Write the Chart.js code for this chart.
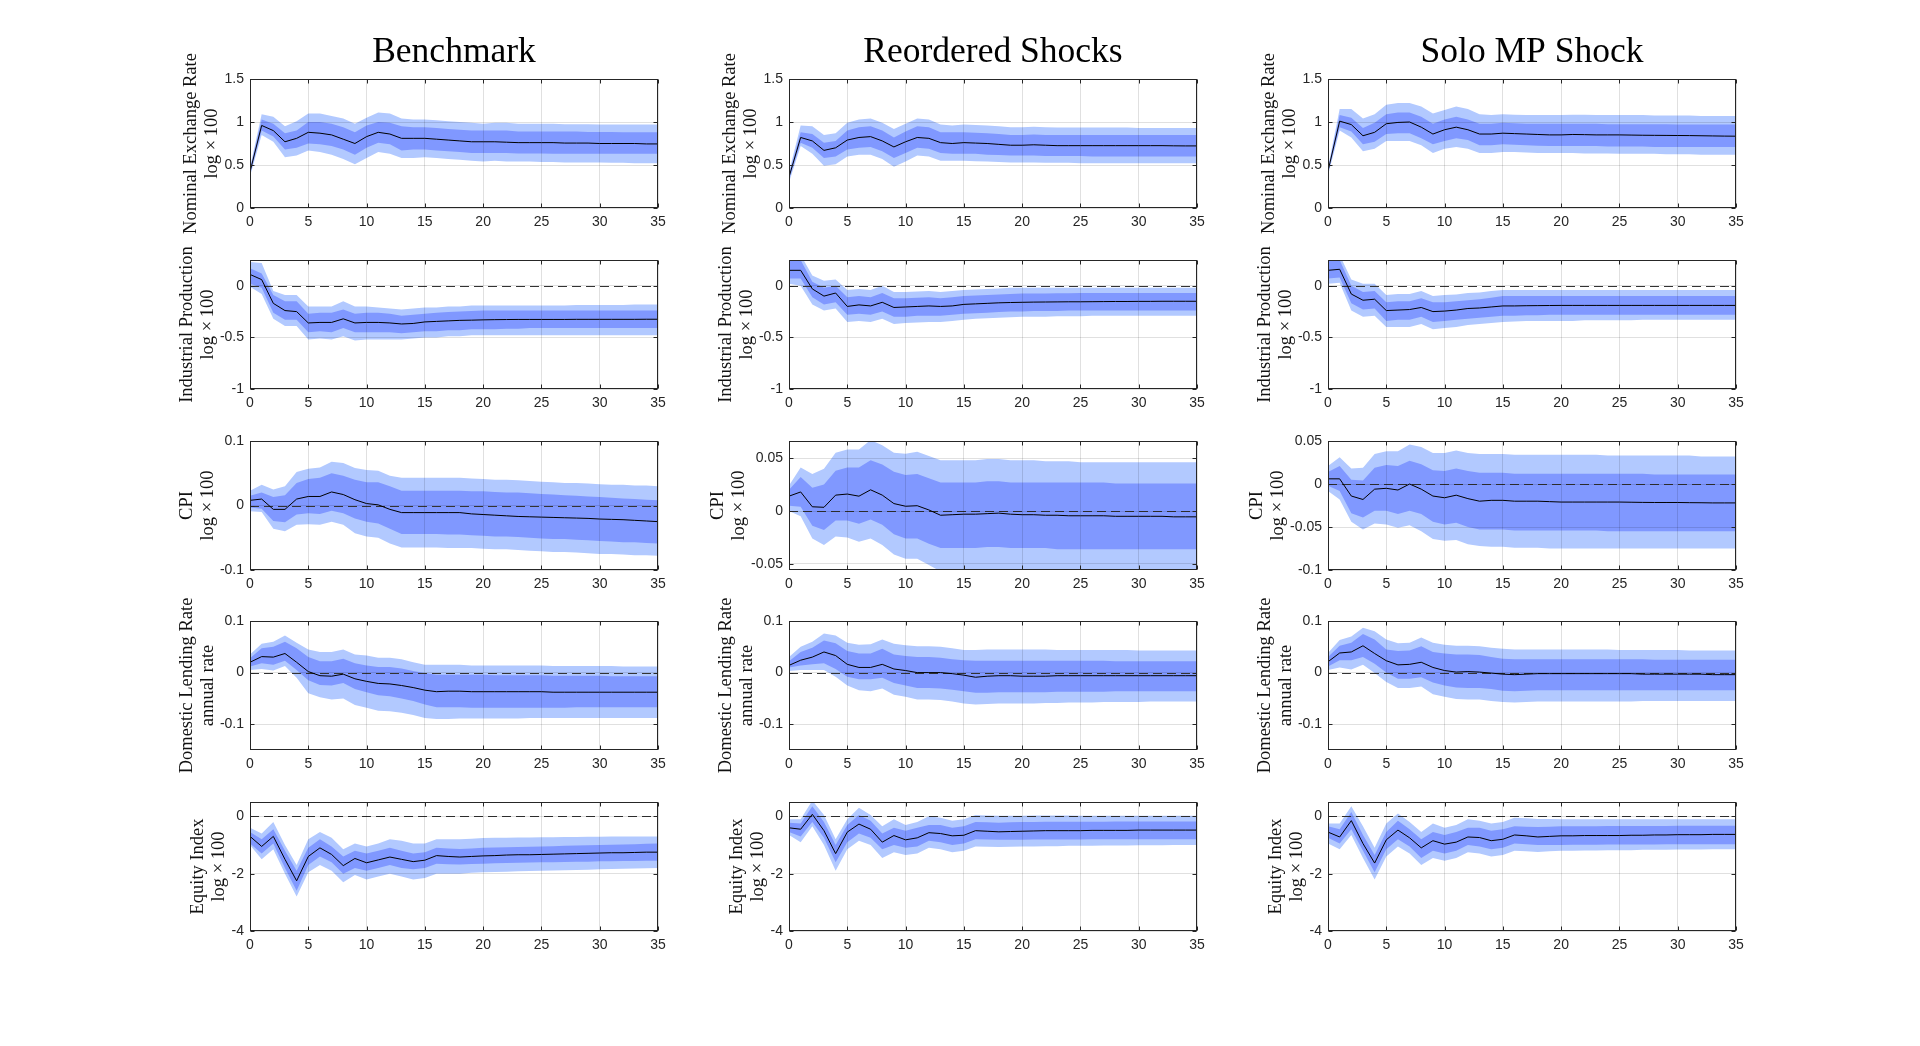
<!DOCTYPE html>
<html>
<head>
<meta charset="utf-8">
<title>Impulse responses</title>
<script src="https://cdn.jsdelivr.net/npm/chart.js@4.4.1/dist/chart.umd.min.js"></script>
<style>
  body { margin: 0; background: #fff; width: 1920px; height: 1046px; position: relative; overflow: hidden; }
  canvas { position: absolute; }
</style>
</head>
<body>
<script>
// horizon (months after the shock)
const horizon = [0,1,2,3,4,5,6,7,8,9,10,11,12,13,14,15,16,17,18,19,20,21,22,23,24,25,26,27,28,29,30,31,32,33,34,35];
const xTicks = [0, 5, 10, 15, 20, 25, 30, 35];

const colTitles = ['Benchmark', 'Reordered Shocks', 'Solo MP Shock'];
const rowLabels = [
  ['Nominal Exchange Rate', 'log \u00d7\u2009100'],
  ['Industrial Production', 'log \u00d7\u2009100'],
  ['CPI', 'log \u00d7\u2009100'],
  ['Domestic Lending Rate', 'annual rate'],
  ['Equity Index', 'log \u00d7\u2009100']
];

// y ranges and ticks
const erRange = [0, 1.5], erTicks = [0, 0.5, 1, 1.5];
const ipRange = [-1, 0.25], ipTicks = [-1, -0.5, 0];
const cpiRanges = [[-0.1, 0.1], [-0.0557, 0.0661], [-0.1, 0.05]];
const cpiTicks = [[-0.1, 0, 0.1], [-0.05, 0, 0.05], [-0.1, -0.05, 0, 0.05]];
const lrRange = [-0.15, 0.1], lrTicks = [-0.1, 0, 0.1];
const eqRange = [-4, 0.5], eqTicks = [-4, -2, 0];

// ---- Benchmark ----
const bm_er_med = [0.42,0.96,0.90,0.77,0.81,0.88,0.87,0.85,0.80,0.75, 0.83,0.88,0.86,0.81,0.81,0.81,0.80,0.79,0.78,0.77, 0.77,0.77,0.765,0.76,0.76,0.76,0.76,0.755,0.755,0.755, 0.75,0.75,0.75,0.75,0.745,0.745];
const bm_er_lo1 = [0.39,0.90,0.83,0.68,0.70,0.75,0.74,0.72,0.68,0.62, 0.70,0.76,0.74,0.67,0.68,0.68,0.67,0.66,0.65,0.64, 0.64,0.64,0.64,0.635,0.635,0.635,0.63,0.63,0.63,0.63, 0.63,0.63,0.63,0.63,0.63,0.63];
const bm_er_hi1 = [0.45,1.03,0.98,0.87,0.90,1.00,1.00,0.98,0.94,0.88, 0.96,1.00,0.99,0.95,0.94,0.94,0.93,0.92,0.91,0.90, 0.90,0.90,0.90,0.89,0.89,0.89,0.89,0.89,0.89,0.885, 0.885,0.885,0.88,0.88,0.88,0.88];
const bm_er_lo2 = [0.37,0.85,0.77,0.59,0.61,0.67,0.65,0.62,0.57,0.51, 0.58,0.65,0.63,0.58,0.58,0.59,0.58,0.57,0.56,0.55, 0.54,0.55,0.54,0.54,0.54,0.535,0.535,0.53,0.53,0.53, 0.53,0.525,0.525,0.52,0.52,0.52];
const bm_er_hi2 = [0.47,1.09,1.06,0.95,1.01,1.10,1.10,1.07,1.04,0.98, 1.05,1.11,1.10,1.04,1.03,1.03,1.02,1.01,1.00,0.99, 0.98,0.99,0.99,0.98,0.98,0.98,0.98,0.975,0.975,0.975, 0.97,0.97,0.97,0.97,0.97,0.97];

const bm_ip_med = [0.11,0.06,-0.17,-0.24,-0.25,-0.36,-0.355,-0.355,-0.32,-0.36, -0.355,-0.355,-0.36,-0.37,-0.365,-0.35,-0.345,-0.34,-0.335,-0.333, -0.33,-0.328,-0.327,-0.326,-0.326,-0.326,-0.326,-0.326,-0.325,-0.325, -0.325,-0.325,-0.325,-0.325,-0.324,-0.324];
const bm_ip_lo1 = [0.02,-0.02,-0.26,-0.33,-0.33,-0.45,-0.44,-0.45,-0.41,-0.45, -0.45,-0.45,-0.45,-0.46,-0.45,-0.44,-0.44,-0.43,-0.43,-0.42, -0.42,-0.42,-0.415,-0.415,-0.41,-0.41,-0.41,-0.41,-0.41,-0.41, -0.41,-0.41,-0.41,-0.41,-0.41,-0.41];
const bm_ip_hi1 = [0.17,0.12,-0.09,-0.15,-0.15,-0.27,-0.26,-0.26,-0.23,-0.27, -0.26,-0.26,-0.27,-0.29,-0.28,-0.27,-0.26,-0.255,-0.25,-0.245, -0.24,-0.24,-0.24,-0.24,-0.24,-0.24,-0.24,-0.24,-0.24,-0.24, -0.24,-0.24,-0.24,-0.24,-0.24,-0.24];
const bm_ip_lo2 = [-0.01,-0.08,-0.32,-0.39,-0.39,-0.52,-0.51,-0.52,-0.49,-0.53, -0.52,-0.52,-0.52,-0.52,-0.51,-0.50,-0.50,-0.49,-0.49,-0.48, -0.48,-0.48,-0.48,-0.48,-0.48,-0.48,-0.48,-0.48,-0.48,-0.48, -0.48,-0.48,-0.48,-0.48,-0.48,-0.48];
const bm_ip_hi2 = [0.23,0.22,-0.05,-0.09,-0.09,-0.20,-0.20,-0.20,-0.15,-0.20, -0.20,-0.21,-0.22,-0.23,-0.22,-0.21,-0.21,-0.20,-0.20,-0.19, -0.19,-0.19,-0.19,-0.19,-0.19,-0.19,-0.19,-0.19,-0.185,-0.185, -0.185,-0.185,-0.185,-0.18,-0.18,-0.18];

const bm_cpi_med = [0.008,0.010,-0.006,-0.006,0.010,0.014,0.014,0.021,0.017,0.009, 0.003,0.001,-0.006,-0.011,-0.011,-0.011,-0.011,-0.011,-0.011,-0.013, -0.014,-0.015,-0.016,-0.017,-0.0175,-0.018,-0.0185,-0.019,-0.0195,-0.020, -0.021,-0.0215,-0.022,-0.023,-0.024,-0.025];
const bm_cpi_lo1 = [-0.003,-0.005,-0.024,-0.026,-0.014,-0.012,-0.013,-0.008,-0.012,-0.020, -0.025,-0.028,-0.036,-0.044,-0.044,-0.044,-0.044,-0.045,-0.045,-0.046, -0.047,-0.048,-0.048,-0.049,-0.050,-0.051,-0.052,-0.052,-0.053,-0.054, -0.055,-0.056,-0.057,-0.057,-0.058,-0.059];
const bm_cpi_hi1 = [0.015,0.020,0.013,0.016,0.035,0.041,0.043,0.050,0.046,0.040, 0.036,0.036,0.030,0.023,0.023,0.023,0.023,0.023,0.023,0.022, 0.022,0.021,0.020,0.020,0.019,0.018,0.017,0.016,0.015,0.014, 0.013,0.012,0.011,0.010,0.009,0.008];
const bm_cpi_lo2 = [-0.009,-0.010,-0.036,-0.040,-0.030,-0.029,-0.030,-0.025,-0.030,-0.043, -0.048,-0.050,-0.059,-0.065,-0.065,-0.065,-0.065,-0.066,-0.066,-0.066, -0.067,-0.068,-0.068,-0.069,-0.070,-0.071,-0.072,-0.072,-0.073,-0.074, -0.075,-0.075,-0.076,-0.077,-0.077,-0.078];
const bm_cpi_hi2 = [0.023,0.032,0.025,0.030,0.052,0.057,0.059,0.068,0.066,0.058, 0.055,0.054,0.046,0.043,0.043,0.043,0.043,0.043,0.043,0.042, 0.041,0.040,0.040,0.039,0.038,0.037,0.036,0.035,0.035,0.034, 0.033,0.032,0.032,0.031,0.031,0.030];

const bm_lr_med = [0.020,0.031,0.030,0.037,0.020,0.002,-0.006,-0.007,-0.003,-0.012, -0.017,-0.021,-0.022,-0.025,-0.029,-0.034,-0.037,-0.036,-0.036,-0.037, -0.037,-0.037,-0.037,-0.037,-0.037,-0.037,-0.038,-0.038,-0.038,-0.038, -0.038,-0.038,-0.038,-0.038,-0.038,-0.038];
const bm_lr_lo1 = [0.012,0.018,0.015,0.023,0.005,-0.015,-0.024,-0.025,-0.020,-0.032, -0.038,-0.044,-0.046,-0.050,-0.055,-0.062,-0.067,-0.067,-0.067,-0.068, -0.068,-0.068,-0.068,-0.068,-0.068,-0.068,-0.068,-0.068,-0.067,-0.067, -0.067,-0.067,-0.067,-0.067,-0.067,-0.067];
const bm_lr_hi1 = [0.028,0.047,0.050,0.060,0.047,0.030,0.022,0.022,0.027,0.018, 0.014,0.011,0.011,0.008,0.003,-0.001,-0.004,-0.004,-0.004,-0.004, -0.004,-0.005,-0.005,-0.005,-0.005,-0.005,-0.006,-0.006,-0.006,-0.006, -0.006,-0.007,-0.007,-0.007,-0.007,-0.007];
const bm_lr_lo2 = [0.005,0.007,0.004,0.013,-0.010,-0.040,-0.048,-0.052,-0.050,-0.063, -0.068,-0.074,-0.075,-0.078,-0.082,-0.088,-0.090,-0.090,-0.089,-0.089, -0.089,-0.089,-0.089,-0.089,-0.088,-0.088,-0.088,-0.088,-0.088,-0.088, -0.088,-0.088,-0.088,-0.088,-0.088,-0.088];
const bm_lr_hi2 = [0.035,0.056,0.060,0.072,0.058,0.045,0.040,0.040,0.045,0.035, 0.033,0.029,0.029,0.026,0.020,0.015,0.015,0.015,0.015,0.014, 0.014,0.014,0.014,0.014,0.014,0.014,0.013,0.013,0.013,0.013, 0.013,0.013,0.012,0.012,0.012,0.012];

const bm_eq_med = [-0.70,-1.05,-0.70,-1.50,-2.25,-1.40,-1.10,-1.33,-1.72,-1.47, -1.62,-1.52,-1.42,-1.50,-1.58,-1.53,-1.37,-1.40,-1.42,-1.40, -1.38,-1.37,-1.35,-1.34,-1.34,-1.33,-1.32,-1.31,-1.30,-1.29, -1.28,-1.27,-1.27,-1.26,-1.25,-1.25];
const bm_eq_lo1 = [-0.95,-1.30,-0.95,-1.80,-2.60,-1.70,-1.40,-1.60,-2.00,-1.80, -1.90,-1.80,-1.70,-1.80,-1.85,-1.80,-1.65,-1.67,-1.68,-1.66, -1.65,-1.64,-1.63,-1.62,-1.61,-1.60,-1.60,-1.59,-1.58,-1.58, -1.57,-1.57,-1.56,-1.56,-1.55,-1.55];
const bm_eq_hi1 = [-0.55,-0.80,-0.45,-1.20,-1.90,-1.10,-0.80,-1.05,-1.40,-1.20, -1.30,-1.20,-1.10,-1.20,-1.30,-1.25,-1.10,-1.12,-1.14,-1.12, -1.10,-1.09,-1.08,-1.07,-1.06,-1.05,-1.04,-1.03,-1.02,-1.01, -1.00,-0.99,-0.98,-0.97,-0.96,-0.95];
const bm_eq_lo2 = [-1.00,-1.50,-1.15,-2.00,-2.80,-1.95,-1.70,-1.90,-2.30,-2.05, -2.20,-2.10,-2.00,-2.10,-2.20,-2.15,-2.00,-2.00,-2.00,-1.97, -1.95,-1.94,-1.93,-1.92,-1.91,-1.90,-1.89,-1.88,-1.87,-1.86, -1.85,-1.84,-1.83,-1.82,-1.81,-1.80];
const bm_eq_hi2 = [-0.40,-0.60,-0.20,-1.00,-1.70,-0.80,-0.55,-0.75,-1.15,-0.95, -1.05,-0.95,-0.80,-0.85,-0.95,-0.95,-0.80,-0.80,-0.80,-0.78, -0.76,-0.75,-0.75,-0.74,-0.74,-0.73,-0.73,-0.72,-0.72,-0.71, -0.71,-0.70,-0.70,-0.70,-0.70,-0.70];

// ---- Reordered Shocks ----
const ro_er_med = [0.36,0.82,0.78,0.67,0.70,0.79,0.82,0.83,0.78,0.71, 0.77,0.82,0.81,0.76,0.75,0.76,0.755,0.75,0.74,0.73, 0.73,0.735,0.73,0.725,0.725,0.725,0.725,0.725,0.725,0.725, 0.725,0.725,0.725,0.723,0.722,0.722];
const ro_er_lo1 = [0.33,0.76,0.70,0.58,0.60,0.68,0.70,0.71,0.66,0.58, 0.64,0.70,0.69,0.64,0.63,0.63,0.63,0.62,0.615,0.61, 0.61,0.61,0.605,0.605,0.605,0.605,0.60,0.60,0.60,0.60, 0.60,0.60,0.60,0.60,0.60,0.60];
const ro_er_hi1 = [0.39,0.88,0.86,0.76,0.78,0.90,0.94,0.95,0.90,0.82, 0.89,0.95,0.94,0.88,0.88,0.88,0.875,0.87,0.86,0.85, 0.85,0.855,0.85,0.85,0.85,0.85,0.85,0.85,0.85,0.85, 0.85,0.85,0.85,0.85,0.85,0.85];
const ro_er_lo2 = [0.30,0.72,0.63,0.49,0.51,0.60,0.62,0.62,0.57,0.48, 0.54,0.61,0.60,0.55,0.55,0.55,0.545,0.54,0.535,0.53, 0.53,0.53,0.525,0.525,0.525,0.52,0.52,0.52,0.52,0.52, 0.52,0.52,0.52,0.52,0.52,0.52];
const ro_er_hi2 = [0.42,0.96,0.95,0.85,0.87,0.99,1.03,1.04,0.99,0.92, 0.98,1.04,1.03,0.97,0.96,0.97,0.965,0.96,0.95,0.94, 0.94,0.945,0.94,0.935,0.935,0.935,0.935,0.935,0.935,0.935, 0.93,0.93,0.93,0.93,0.93,0.93];

const ro_ip_med = [0.15,0.15,-0.03,-0.10,-0.07,-0.20,-0.185,-0.195,-0.16,-0.21, -0.205,-0.20,-0.195,-0.20,-0.195,-0.18,-0.175,-0.17,-0.165,-0.162, -0.16,-0.158,-0.157,-0.156,-0.155,-0.155,-0.154,-0.153,-0.152,-0.152, -0.151,-0.151,-0.15,-0.15,-0.15,-0.15];
const ro_ip_lo1 = [0.07,0.07,-0.11,-0.18,-0.16,-0.28,-0.27,-0.28,-0.25,-0.30, -0.30,-0.29,-0.29,-0.29,-0.28,-0.27,-0.265,-0.26,-0.255,-0.25, -0.25,-0.245,-0.245,-0.245,-0.24,-0.24,-0.24,-0.24,-0.24,-0.24, -0.24,-0.24,-0.24,-0.24,-0.24,-0.24];
const ro_ip_hi1 = [0.25,0.25,0.04,-0.02,0.00,-0.11,-0.10,-0.11,-0.07,-0.12, -0.12,-0.115,-0.11,-0.12,-0.11,-0.10,-0.095,-0.09,-0.085,-0.08, -0.075,-0.075,-0.075,-0.072,-0.072,-0.07,-0.07,-0.07,-0.07,-0.07, -0.07,-0.07,-0.07,-0.07,-0.07,-0.07];
const ro_ip_lo2 = [0.02,0.00,-0.18,-0.24,-0.22,-0.35,-0.34,-0.35,-0.32,-0.37, -0.36,-0.355,-0.35,-0.35,-0.34,-0.33,-0.32,-0.315,-0.31,-0.305, -0.30,-0.30,-0.30,-0.295,-0.295,-0.295,-0.29,-0.29,-0.29,-0.29, -0.29,-0.29,-0.29,-0.29,-0.29,-0.29];
const ro_ip_hi2 = [0.30,0.30,0.10,0.05,0.06,-0.04,-0.03,-0.04,0.00,-0.06, -0.06,-0.055,-0.05,-0.06,-0.05,-0.04,-0.035,-0.03,-0.025,-0.02, -0.02,-0.02,-0.02,-0.02,-0.02,-0.02,-0.02,-0.02,-0.02,-0.02, -0.02,-0.02,-0.02,-0.02,-0.02,-0.02];

const ro_cpi_med = [0.014,0.018,0.004,0.0035,0.015,0.016,0.014,0.020,0.015,0.007, 0.0045,0.005,0.001,-0.004,-0.0035,-0.003,-0.003,-0.0025,-0.002,-0.003, -0.0035,-0.0035,-0.004,-0.004,-0.0045,-0.0045,-0.0045,-0.0045,-0.005,-0.005, -0.005,-0.005,-0.005,-0.0055,-0.0055,-0.0055];
const ro_cpi_lo1 = [0.005,0.004,-0.014,-0.018,-0.009,-0.009,-0.012,-0.008,-0.013,-0.022, -0.026,-0.026,-0.031,-0.035,-0.035,-0.035,-0.035,-0.034,-0.034,-0.035, -0.035,-0.035,-0.035,-0.036,-0.036,-0.036,-0.036,-0.036,-0.036,-0.036, -0.036,-0.036,-0.036,-0.036,-0.036,-0.036];
const ro_cpi_hi1 = [0.020,0.032,0.022,0.025,0.038,0.041,0.041,0.048,0.044,0.037, 0.034,0.035,0.031,0.027,0.027,0.027,0.027,0.028,0.028,0.027, 0.027,0.027,0.027,0.027,0.027,0.027,0.027,0.027,0.026,0.026, 0.026,0.026,0.026,0.026,0.026,0.026];
const ro_cpi_lo2 = [0.000,-0.005,-0.026,-0.032,-0.024,-0.025,-0.029,-0.026,-0.032,-0.041, -0.045,-0.045,-0.051,-0.057,-0.058,-0.058,-0.058,-0.057,-0.057,-0.058, -0.058,-0.058,-0.059,-0.059,-0.059,-0.059,-0.059,-0.059,-0.060,-0.060, -0.060,-0.060,-0.060,-0.060,-0.060,-0.060];
const ro_cpi_hi2 = [0.024,0.041,0.035,0.040,0.055,0.058,0.058,0.067,0.062,0.055, 0.054,0.056,0.052,0.048,0.048,0.048,0.048,0.049,0.049,0.048, 0.048,0.048,0.047,0.047,0.047,0.046,0.046,0.046,0.046,0.046, 0.046,0.046,0.046,0.046,0.046,0.046];

const ro_lr_med = [0.014,0.024,0.030,0.040,0.033,0.016,0.010,0.010,0.016,0.007, 0.004,0.000,0.000,0.000,-0.002,-0.005,-0.009,-0.007,-0.006,-0.006, -0.007,-0.007,-0.007,-0.006,-0.006,-0.006,-0.006,-0.006,-0.006,-0.006, -0.006,-0.006,-0.006,-0.006,-0.006,-0.006];
const ro_lr_lo1 = [0.010,0.014,0.016,0.018,0.007,-0.008,-0.013,-0.013,-0.010,-0.020, -0.025,-0.030,-0.030,-0.031,-0.033,-0.036,-0.039,-0.039,-0.038,-0.038, -0.038,-0.038,-0.038,-0.037,-0.037,-0.037,-0.037,-0.037,-0.036,-0.036, -0.036,-0.036,-0.036,-0.036,-0.036,-0.036];
const ro_lr_hi1 = [0.022,0.040,0.048,0.062,0.057,0.042,0.037,0.037,0.046,0.035, 0.032,0.030,0.030,0.029,0.026,0.024,0.023,0.023,0.023,0.023, 0.023,0.023,0.023,0.023,0.023,0.023,0.023,0.023,0.022,0.022, 0.022,0.022,0.022,0.022,0.022,0.022];
const ro_lr_lo2 = [0.003,0.005,0.005,0.005,-0.008,-0.025,-0.034,-0.036,-0.031,-0.043, -0.047,-0.052,-0.052,-0.053,-0.056,-0.060,-0.062,-0.061,-0.060,-0.060, -0.060,-0.060,-0.059,-0.059,-0.058,-0.058,-0.058,-0.057,-0.057,-0.057, -0.057,-0.056,-0.056,-0.056,-0.056,-0.056];
const ro_lr_hi2 = [0.030,0.050,0.060,0.076,0.072,0.058,0.054,0.055,0.064,0.056, 0.053,0.051,0.051,0.050,0.047,0.044,0.044,0.045,0.045,0.045, 0.045,0.045,0.045,0.044,0.044,0.044,0.044,0.044,0.044,0.044, 0.043,0.043,0.043,0.043,0.043,0.043];

const ro_eq_med = [-0.40,-0.45,0.07,-0.50,-1.30,-0.55,-0.27,-0.45,-0.90,-0.67, -0.82,-0.75,-0.57,-0.60,-0.68,-0.66,-0.50,-0.52,-0.54,-0.53, -0.52,-0.51,-0.50,-0.50,-0.50,-0.50,-0.49,-0.49,-0.49,-0.49, -0.48,-0.48,-0.48,-0.48,-0.48,-0.48];
const ro_eq_lo1 = [-0.55,-0.70,-0.20,-0.75,-1.60,-0.90,-0.60,-0.75,-1.15,-1.00, -1.10,-1.05,-0.85,-0.90,-1.00,-0.95,-0.80,-0.81,-0.82,-0.82, -0.82,-0.81,-0.81,-0.81,-0.81,-0.81,-0.80,-0.80,-0.80,-0.80, -0.80,-0.80,-0.80,-0.80,-0.80,-0.80];
const ro_eq_hi1 = [-0.22,-0.25,0.35,-0.20,-1.00,-0.30,0.05,-0.15,-0.60,-0.40, -0.50,-0.40,-0.30,-0.30,-0.40,-0.35,-0.20,-0.21,-0.22,-0.21, -0.20,-0.20,-0.19,-0.19,-0.19,-0.19,-0.19,-0.19,-0.18,-0.18, -0.18,-0.18,-0.18,-0.18,-0.18,-0.18];
const ro_eq_lo2 = [-0.65,-0.90,-0.35,-1.00,-1.90,-1.15,-0.85,-1.00,-1.45,-1.25, -1.35,-1.30,-1.10,-1.15,-1.25,-1.20,-1.05,-1.06,-1.07,-1.06, -1.05,-1.05,-1.04,-1.04,-1.03,-1.03,-1.03,-1.02,-1.02,-1.02, -1.01,-1.01,-1.01,-1.00,-1.00,-1.00];
const ro_eq_hi2 = [-0.10,-0.10,0.55,0.05,-0.80,-0.10,0.30,0.05,-0.35,-0.10, -0.30,-0.20,0.00,-0.05,-0.15,-0.10,0.05,0.03,0.02,0.02, 0.02,0.03,0.03,0.03,0.03,0.02,0.02,0.02,0.02,0.02, 0.02,0.02,0.02,0.02,0.02,0.02];

// ---- Solo MP Shock ----
const mp_er_med = [0.43,1.01,0.97,0.84,0.88,0.98,0.995,1.00,0.94,0.86, 0.91,0.94,0.91,0.86,0.86,0.87,0.865,0.86,0.855,0.85, 0.85,0.855,0.853,0.85,0.85,0.85,0.848,0.846,0.845,0.844, 0.843,0.842,0.84,0.838,0.836,0.835];
const mp_er_lo1 = [0.41,0.94,0.89,0.74,0.77,0.86,0.87,0.87,0.81,0.74, 0.78,0.81,0.79,0.73,0.73,0.74,0.735,0.73,0.725,0.72, 0.72,0.72,0.72,0.72,0.715,0.715,0.715,0.715,0.71,0.71, 0.71,0.71,0.71,0.71,0.71,0.71];
const mp_er_hi1 = [0.45,1.08,1.05,0.93,0.99,1.09,1.11,1.11,1.06,0.98, 1.03,1.06,1.03,0.98,0.98,0.99,0.985,0.98,0.98,0.98, 0.98,0.98,0.98,0.98,0.975,0.975,0.975,0.975,0.975,0.975, 0.97,0.97,0.97,0.97,0.97,0.97];
const mp_er_lo2 = [0.38,0.90,0.82,0.66,0.69,0.78,0.78,0.78,0.73,0.64, 0.69,0.71,0.69,0.64,0.64,0.65,0.65,0.645,0.64,0.64, 0.64,0.64,0.635,0.635,0.635,0.63,0.63,0.63,0.63,0.625, 0.625,0.625,0.62,0.62,0.62,0.62];
const mp_er_hi2 = [0.47,1.15,1.15,1.04,1.09,1.20,1.22,1.22,1.18,1.10, 1.14,1.18,1.15,1.09,1.08,1.09,1.085,1.08,1.08,1.08, 1.08,1.085,1.085,1.08,1.08,1.08,1.08,1.08,1.075,1.075, 1.075,1.075,1.07,1.07,1.07,1.07];

const mp_ip_med = [0.15,0.16,-0.08,-0.14,-0.13,-0.24,-0.235,-0.23,-0.21,-0.25, -0.245,-0.235,-0.22,-0.215,-0.205,-0.195,-0.195,-0.193,-0.192,-0.191, -0.19,-0.19,-0.19,-0.19,-0.19,-0.19,-0.19,-0.19,-0.19,-0.19, -0.19,-0.19,-0.19,-0.19,-0.19,-0.19];
const mp_ip_lo1 = [0.07,0.08,-0.17,-0.23,-0.22,-0.34,-0.33,-0.33,-0.30,-0.35, -0.34,-0.33,-0.32,-0.31,-0.30,-0.29,-0.29,-0.285,-0.285,-0.28, -0.28,-0.28,-0.28,-0.28,-0.28,-0.28,-0.28,-0.28,-0.28,-0.28, -0.28,-0.28,-0.28,-0.28,-0.28,-0.28];
const mp_ip_hi1 = [0.25,0.25,0.00,-0.06,-0.05,-0.16,-0.15,-0.15,-0.12,-0.16, -0.16,-0.15,-0.14,-0.13,-0.115,-0.10,-0.10,-0.10,-0.10,-0.10, -0.10,-0.10,-0.10,-0.10,-0.10,-0.10,-0.10,-0.10,-0.10,-0.10, -0.10,-0.10,-0.10,-0.10,-0.10,-0.10];
const mp_ip_lo2 = [0.02,0.03,-0.24,-0.30,-0.29,-0.40,-0.40,-0.40,-0.37,-0.42, -0.41,-0.40,-0.38,-0.37,-0.36,-0.35,-0.345,-0.34,-0.34,-0.34, -0.34,-0.34,-0.335,-0.335,-0.335,-0.335,-0.335,-0.33,-0.33,-0.33, -0.33,-0.33,-0.33,-0.33,-0.33,-0.33];
const mp_ip_hi2 = [0.30,0.30,0.06,0.02,0.02,-0.09,-0.08,-0.08,-0.05,-0.10, -0.09,-0.085,-0.07,-0.065,-0.05,-0.04,-0.04,-0.04,-0.04,-0.04, -0.04,-0.04,-0.04,-0.04,-0.04,-0.04,-0.04,-0.04,-0.04,-0.04, -0.04,-0.04,-0.04,-0.04,-0.04,-0.04];

const mp_cpi_med = [0.006,0.006,-0.014,-0.018,-0.006,-0.005,-0.007,0.000,-0.006,-0.014, -0.016,-0.013,-0.017,-0.020,-0.019,-0.019,-0.020,-0.020,-0.020,-0.0205, -0.021,-0.021,-0.021,-0.021,-0.021,-0.021,-0.0212,-0.0214,-0.0215,-0.0215, -0.0215,-0.0217,-0.0218,-0.022,-0.022,-0.022];
const mp_cpi_lo1 = [-0.002,-0.008,-0.034,-0.039,-0.031,-0.031,-0.035,-0.031,-0.035,-0.044, -0.047,-0.045,-0.050,-0.053,-0.053,-0.053,-0.054,-0.054,-0.054,-0.054, -0.054,-0.054,-0.054,-0.054,-0.055,-0.055,-0.055,-0.055,-0.055,-0.055, -0.055,-0.055,-0.055,-0.055,-0.055,-0.055];
const mp_cpi_hi1 = [0.014,0.021,0.005,0.004,0.019,0.022,0.021,0.027,0.023,0.016, 0.015,0.018,0.015,0.013,0.013,0.013,0.012,0.012,0.012,0.012, 0.012,0.012,0.012,0.012,0.012,0.012,0.012,0.012,0.011,0.011, 0.011,0.011,0.011,0.011,0.011,0.011];
const mp_cpi_lo2 = [-0.008,-0.018,-0.044,-0.053,-0.046,-0.047,-0.051,-0.048,-0.055,-0.064, -0.066,-0.065,-0.070,-0.072,-0.073,-0.073,-0.074,-0.074,-0.074,-0.075, -0.075,-0.075,-0.075,-0.075,-0.075,-0.075,-0.075,-0.075,-0.075,-0.075, -0.075,-0.075,-0.075,-0.075,-0.075,-0.075];
const mp_cpi_hi2 = [0.021,0.031,0.018,0.019,0.035,0.038,0.038,0.046,0.043,0.036, 0.036,0.039,0.036,0.035,0.035,0.035,0.034,0.034,0.034,0.034, 0.034,0.034,0.034,0.034,0.033,0.033,0.033,0.033,0.033,0.033, 0.033,0.033,0.032,0.032,0.032,0.032];

const mp_lr_med = [0.021,0.038,0.040,0.052,0.037,0.023,0.015,0.016,0.020,0.010, 0.004,0.001,0.002,0.001,-0.001,-0.003,-0.004,-0.003,-0.002,-0.002, -0.002,-0.002,-0.002,-0.002,-0.002,-0.002,-0.002,-0.003,-0.003,-0.003, -0.003,-0.003,-0.003,-0.004,-0.004,-0.004];
const mp_lr_lo1 = [0.012,0.024,0.024,0.030,0.017,0.000,-0.012,-0.012,-0.009,-0.019, -0.025,-0.029,-0.030,-0.030,-0.032,-0.035,-0.036,-0.035,-0.034,-0.034, -0.034,-0.034,-0.034,-0.034,-0.034,-0.034,-0.034,-0.034,-0.034,-0.034, -0.034,-0.034,-0.034,-0.034,-0.034,-0.034];
const mp_lr_hi1 = [0.030,0.052,0.058,0.075,0.064,0.045,0.042,0.043,0.051,0.040, 0.037,0.035,0.035,0.034,0.030,0.027,0.026,0.026,0.026,0.026, 0.026,0.026,0.026,0.026,0.026,0.026,0.026,0.026,0.025,0.025, 0.025,0.025,0.025,0.025,0.025,0.025];
const mp_lr_lo2 = [0.005,0.010,0.006,0.015,-0.001,-0.018,-0.030,-0.030,-0.027,-0.042, -0.047,-0.051,-0.052,-0.052,-0.055,-0.057,-0.058,-0.057,-0.056,-0.056, -0.056,-0.056,-0.056,-0.056,-0.056,-0.056,-0.056,-0.055,-0.055,-0.055, -0.055,-0.055,-0.055,-0.055,-0.055,-0.055];
const mp_lr_hi2 = [0.038,0.063,0.070,0.087,0.080,0.064,0.057,0.058,0.068,0.058, 0.054,0.052,0.052,0.051,0.048,0.046,0.045,0.045,0.045,0.045, 0.045,0.045,0.045,0.045,0.045,0.044,0.044,0.044,0.044,0.044, 0.044,0.043,0.043,0.043,0.043,0.043];

const mp_eq_med = [-0.55,-0.72,-0.15,-0.95,-1.63,-0.82,-0.48,-0.75,-1.10,-0.85, -0.97,-0.90,-0.72,-0.74,-0.85,-0.80,-0.65,-0.68,-0.72,-0.70, -0.68,-0.68,-0.67,-0.67,-0.67,-0.67,-0.66,-0.66,-0.65,-0.65, -0.64,-0.64,-0.64,-0.63,-0.63,-0.63];
const mp_eq_lo1 = [-0.75,-0.95,-0.45,-1.20,-1.95,-1.15,-0.80,-1.05,-1.45,-1.20, -1.30,-1.20,-1.00,-1.05,-1.15,-1.10,-0.95,-0.97,-1.00,-1.00, -1.00,-0.99,-0.99,-0.99,-0.98,-0.98,-0.98,-0.98,-0.98,-0.97, -0.97,-0.97,-0.97,-0.97,-0.97,-0.97];
const mp_eq_hi1 = [-0.35,-0.45,0.15,-0.65,-1.35,-0.55,-0.15,-0.45,-0.80,-0.55, -0.65,-0.55,-0.40,-0.40,-0.50,-0.45,-0.35,-0.36,-0.37,-0.36, -0.35,-0.35,-0.35,-0.35,-0.34,-0.34,-0.34,-0.34,-0.34,-0.34, -0.33,-0.33,-0.33,-0.33,-0.33,-0.33];
const mp_eq_lo2 = [-0.95,-1.15,-0.65,-1.45,-2.20,-1.40,-1.05,-1.30,-1.70,-1.45, -1.55,-1.45,-1.25,-1.30,-1.40,-1.35,-1.20,-1.22,-1.24,-1.22, -1.20,-1.20,-1.19,-1.19,-1.18,-1.18,-1.18,-1.17,-1.17,-1.17, -1.16,-1.16,-1.16,-1.15,-1.15,-1.15];
const mp_eq_hi2 = [-0.25,-0.25,0.35,-0.35,-1.10,-0.25,0.10,-0.20,-0.55,-0.25, -0.40,-0.30,-0.10,-0.15,-0.25,-0.20,-0.05,-0.07,-0.09,-0.09, -0.10,-0.10,-0.10,-0.10,-0.10,-0.10,-0.10,-0.10,-0.10,-0.10, -0.10,-0.10,-0.10,-0.10,-0.10,-0.10];

// layout of the 5x3 grid (page pixels)
const colLeft = [250, 789, 1328];
const rowTop = [79, 260, 441, 621, 802];
const plotW = 408, plotH = 129;
const padL = 110, padT = 60, padR = 30, padB = 32;

const lightBand = 'rgb(178,201,255)';
const darkBand = 'rgb(128,152,255)';
const axisColor = '#262626';

const panels = [
  // row, col, series..., range, ticks
  [0, 0, bm_er_med, bm_er_lo1, bm_er_hi1, bm_er_lo2, bm_er_hi2, erRange, erTicks],
  [0, 1, ro_er_med, ro_er_lo1, ro_er_hi1, ro_er_lo2, ro_er_hi2, erRange, erTicks],
  [0, 2, mp_er_med, mp_er_lo1, mp_er_hi1, mp_er_lo2, mp_er_hi2, erRange, erTicks],
  [1, 0, bm_ip_med, bm_ip_lo1, bm_ip_hi1, bm_ip_lo2, bm_ip_hi2, ipRange, ipTicks],
  [1, 1, ro_ip_med, ro_ip_lo1, ro_ip_hi1, ro_ip_lo2, ro_ip_hi2, ipRange, ipTicks],
  [1, 2, mp_ip_med, mp_ip_lo1, mp_ip_hi1, mp_ip_lo2, mp_ip_hi2, ipRange, ipTicks],
  [2, 0, bm_cpi_med, bm_cpi_lo1, bm_cpi_hi1, bm_cpi_lo2, bm_cpi_hi2, cpiRanges[0], cpiTicks[0]],
  [2, 1, ro_cpi_med, ro_cpi_lo1, ro_cpi_hi1, ro_cpi_lo2, ro_cpi_hi2, cpiRanges[1], cpiTicks[1]],
  [2, 2, mp_cpi_med, mp_cpi_lo1, mp_cpi_hi1, mp_cpi_lo2, mp_cpi_hi2, cpiRanges[2], cpiTicks[2]],
  [3, 0, bm_lr_med, bm_lr_lo1, bm_lr_hi1, bm_lr_lo2, bm_lr_hi2, lrRange, lrTicks],
  [3, 1, ro_lr_med, ro_lr_lo1, ro_lr_hi1, ro_lr_lo2, ro_lr_hi2, lrRange, lrTicks],
  [3, 2, mp_lr_med, mp_lr_lo1, mp_lr_hi1, mp_lr_lo2, mp_lr_hi2, lrRange, lrTicks],
  [4, 0, bm_eq_med, bm_eq_lo1, bm_eq_hi1, bm_eq_lo2, bm_eq_hi2, eqRange, eqTicks],
  [4, 1, ro_eq_med, ro_eq_lo1, ro_eq_hi1, ro_eq_lo2, ro_eq_hi2, eqRange, eqTicks],
  [4, 2, mp_eq_med, mp_eq_lo1, mp_eq_hi1, mp_eq_lo2, mp_eq_hi2, eqRange, eqTicks]
];

// box, inward ticks, zero line, y labels and column titles
const deco = {
  id: 'deco',
  beforeDatasetDraw(chart, args, opts) {
    if (args.index !== 0 || !opts.zero) return;
    const { ctx, chartArea: a, scales: { y } } = chart;
    const py = Math.round(y.getPixelForValue(0)) + 0.5;
    ctx.save();
    ctx.strokeStyle = '#333';
    ctx.lineWidth = 1;
    ctx.setLineDash([9, 5]);
    ctx.beginPath();
    ctx.moveTo(a.left, py);
    ctx.lineTo(a.right, py);
    ctx.stroke();
    ctx.restore();
  },
  afterDraw(chart, args, opts) {
    const { ctx, chartArea: a, scales: { x, y } } = chart;
    const L = Math.round(a.left) + 0.5, R = Math.round(a.right) - 0.5;
    const T = Math.round(a.top) + 0.5, B = Math.round(a.bottom) - 0.5;
    ctx.save();
    ctx.strokeStyle = axisColor;
    ctx.lineWidth = 1;
    ctx.beginPath();
    x.ticks.forEach(t => {
      const px = Math.round(x.getPixelForValue(t.value)) + 0.5;
      ctx.moveTo(px, B); ctx.lineTo(px, B - 4);
      ctx.moveTo(px, T); ctx.lineTo(px, T + 4);
    });
    y.ticks.forEach(t => {
      const py = Math.round(y.getPixelForValue(t.value)) + 0.5;
      ctx.moveTo(L, py); ctx.lineTo(L + 4, py);
      ctx.moveTo(R, py); ctx.lineTo(R - 4, py);
    });
    ctx.stroke();
    ctx.strokeRect(L, T, R - L, B - T);

    // two-line y label, placed left of the widest tick label
    ctx.font = '14px "Liberation Sans", Arial, sans-serif';
    const w = Math.max(...y.ticks.map(t => ctx.measureText(String(t.value)).width));
    const x2 = a.left - 6 - w - 12;
    const x1 = x2 - 21;
    const cy = (a.top + a.bottom) / 2;
    ctx.fillStyle = '#111';
    ctx.font = '18.5px "Liberation Serif", "DejaVu Serif", serif';
    ctx.textAlign = 'center';
    ctx.textBaseline = 'middle';
    [[x1, opts.label[0]], [x2, opts.label[1]]].forEach(([lx, txt]) => {
      ctx.save();
      ctx.translate(lx, cy);
      ctx.rotate(-Math.PI / 2);
      ctx.fillText(txt, 0, 0);
      ctx.restore();
    });

    if (opts.title) {
      ctx.fillStyle = '#000';
      ctx.font = '35.5px "Liberation Serif", "DejaVu Serif", serif';
      ctx.textBaseline = 'alphabetic';
      ctx.fillText(opts.title, (a.left + a.right) / 2, a.top - 17);
    }
    ctx.restore();
  }
};

const noLine = { borderWidth: 0, borderColor: 'rgba(0,0,0,0)', pointRadius: 0, pointHoverRadius: 0 };

panels.forEach(([row, col, med, lo1, hi1, lo2, hi2, range, ticks]) => {
  const cv = document.createElement('canvas');
  const W = padL + plotW + padR, H = padT + plotH + padB;
  cv.width = W; cv.height = H;
  cv.style.width = W + 'px'; cv.style.height = H + 'px';
  cv.style.left = (colLeft[col] - padL) + 'px';
  cv.style.top = (rowTop[row] - padT) + 'px';
  document.body.appendChild(cv);

  new Chart(cv.getContext('2d'), {
    type: 'line',
    data: {
      labels: horizon,
      datasets: [
        { data: med, borderColor: '#000', borderWidth: 1, pointRadius: 0, fill: false },
        Object.assign({ data: hi1, backgroundColor: darkBand, fill: '+1' }, noLine),
        Object.assign({ data: lo1, fill: false }, noLine),
        Object.assign({ data: hi2, backgroundColor: lightBand, fill: '+1' }, noLine),
        Object.assign({ data: lo2, fill: false }, noLine)
      ]
    },
    options: {
      responsive: false,
      animation: false,
      events: [],
      layout: { padding: { left: 0, top: padT, right: padR, bottom: 0 } },
      scales: {
        x: {
          type: 'linear',
          min: 0,
          max: 35,
          afterFit: s => { s.height = padB; },
          afterBuildTicks: s => { s.ticks = xTicks.map(v => ({ value: v })); },
          grid: { color: 'rgba(0,0,0,0.12)', drawTicks: false, z: 1 },
          border: { display: false },
          ticks: {
            color: axisColor,
            padding: 6,
            maxRotation: 0,
            font: { family: '"Liberation Sans", Arial, sans-serif', size: 14 },
            callback: v => String(v)
          }
        },
        y: {
          min: range[0],
          max: range[1],
          afterFit: s => { s.width = padL; },
          afterBuildTicks: s => { s.ticks = ticks.map(v => ({ value: v })); },
          grid: { color: 'rgba(0,0,0,0.12)', drawTicks: false, z: 1 },
          border: { display: false },
          ticks: {
            color: axisColor,
            padding: 6,
            font: { family: '"Liberation Sans", Arial, sans-serif', size: 14 },
            callback: v => String(v)
          }
        }
      },
      plugins: {
        legend: { display: false },
        tooltip: { enabled: false },
        deco: {
          label: rowLabels[row],
          zero: row > 0,
          title: row === 0 ? colTitles[col] : null
        }
      }
    },
    plugins: [deco]
  });
});
</script>
</body>
</html>
